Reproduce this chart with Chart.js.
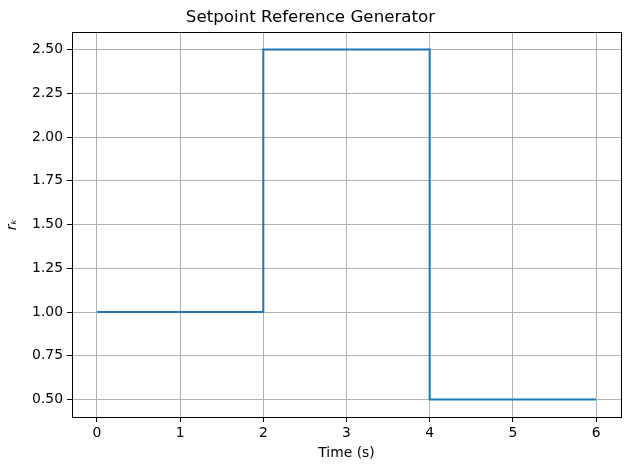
<!DOCTYPE html>
<html>
<head>
<meta charset="utf-8">
<script src="https://cdn.jsdelivr.net/npm/chart.js@4"></script>
<style>
  html, body { margin: 0; padding: 0; background: #fff; }
  #wrap { width: 630px; height: 470px; }
</style>
</head>
<body>
<div id="wrap"><canvas id="setpointChart" width="630" height="470"></canvas></div>
<script>
// step reference: r_k over time
const times = [0, 2, 2, 4, 4, 6];
const refValues = [1.0, 1.0, 2.5, 2.5, 0.5, 0.5];
const xTicks = [0, 1, 2, 3, 4, 5, 6];
const yTicks = [0.5, 0.75, 1.0, 1.25, 1.5, 1.75, 2.0, 2.25, 2.5];

const font = { family: 'DejaVu Sans', size: 13.9 };

// box around the plot area (matplotlib spines)
const frame = {
    id: 'frame',
    afterDatasetsDraw(chart) {
        const a = chart.chartArea;
        const ctx = chart.ctx;
        ctx.save();
        ctx.strokeStyle = '#000';
        ctx.lineWidth = 1;
        ctx.strokeRect(Math.round(a.left) + 0.5, Math.round(a.top) + 0.5,
            Math.round(a.right - a.left), Math.round(a.bottom - a.top));
        ctx.restore();
    }
};

new Chart(document.getElementById('setpointChart').getContext('2d'), {
    type: 'line',
    data: {
        datasets: [{
            data: times.map((t, i) => ({ x: t, y: refValues[i] })),
            borderColor: '#1f77b4',
            borderWidth: 2,
            pointRadius: 0,
            fill: false,
            tension: 0
        }]
    },
    options: {
        responsive: false,
        animation: false,
        layout: { padding: { left: 0, right: 9, top: 0, bottom: 0 } },
        plugins: {
            legend: { display: false },
            tooltip: { enabled: false },
            title: {
                display: true,
                text: 'Setpoint Reference Generator',
                color: '#000',
                font: { family: 'DejaVu Sans', size: 16.7, weight: 'normal' },
                padding: { top: 8, bottom: 4 }
            }
        },
        scales: {
            x: {
                type: 'linear',
                min: -0.3,
                max: 6.3,
                afterBuildTicks: s => { s.ticks = xTicks.map(v => ({ value: v })); },
                afterFit: s => { s.height = 53; },
                grid: { color: '#b0b0b0', lineWidth: 1, tickColor: '#000', tickLength: 5 },
                border: { display: false },
                ticks: { color: '#000', font: font, padding: 3, maxRotation: 0,
                         callback: v => String(v) },
                title: { display: true, text: 'Time (s)', color: '#000', font: font,
                         padding: { top: 0, bottom: 8 } }
            },
            y: {
                type: 'linear',
                min: 0.4,
                max: 2.6,
                afterBuildTicks: s => { s.ticks = yTicks.map(v => ({ value: v })); },
                afterFit: s => { s.width = 72; },
                grid: { color: '#b0b0b0', lineWidth: 1, tickColor: '#000', tickLength: 5 },
                border: { display: false },
                ticks: { color: '#000', font: font, padding: 4,
                         callback: v => v.toFixed(2) },
                title: { display: true, text: 'rₖ', color: '#000',
                         font: { family: 'DejaVu Sans', size: 13.9, style: 'italic' },
                         padding: { top: 4, bottom: 0 } }
            }
        }
    },
    plugins: [frame]
});
</script>
</body>
</html>
